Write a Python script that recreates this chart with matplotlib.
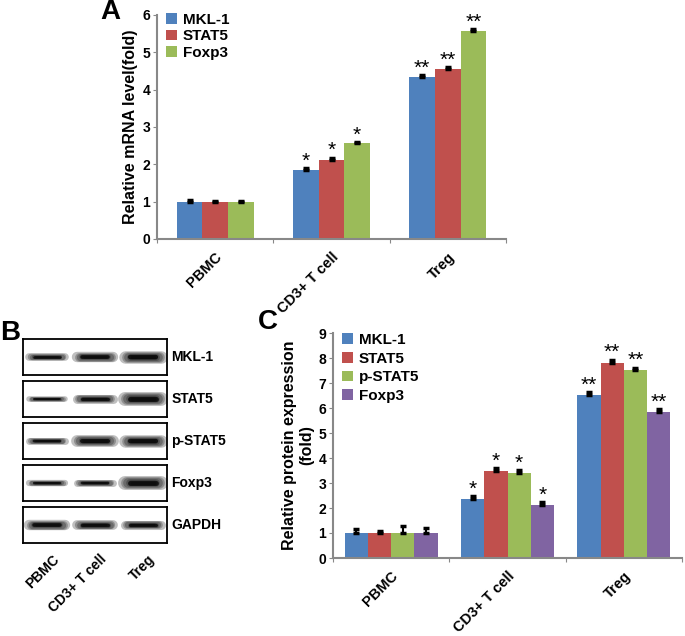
import matplotlib
matplotlib.use("Agg")
import matplotlib.pyplot as plt
import numpy as np

plt.rcParams['font.family'] = ['Liberation Sans', 'DejaVu Sans']
plt.rcParams['font.weight'] = 'bold'

#---------------------------------------------------------------------------------------------------------
# Data
#---------------------------------------------------------------------------------------------------------
groups = ["PBMC", "CD3+ T cell", "Treg"]

mrna_names = ["MKL-1", "STAT5", "Foxp3"]
mrna_vals = [[1.0, 1.85, 4.35],
             [1.0, 2.12, 4.55],
             [1.0, 2.56, 5.58]]
mrna_err = [[0.04, 0.05, 0.05],
            [0.03, 0.06, 0.05],
            [0.03, 0.04, 0.05]]
mrna_sig = [["", "*", "**"],
            ["", "*", "**"],
            ["", "*", "**"]]

prot_names = ["MKL-1", "STAT5", "p-STAT5", "Foxp3"]
prot_vals = [[1.0, 2.35, 6.52],
             [1.0, 3.50, 7.82],
             [1.0, 3.42, 7.52],
             [1.0, 2.12, 5.85]]
prot_err = [[0.15, 0.12, 0.12],
            [0.10, 0.10, 0.12],
            [0.30, 0.10, 0.10],
            [0.22, 0.12, 0.12]]
prot_sig = [["", "*", "**"],
            ["", "*", "**"],
            ["", "*", "**"],
            ["", "*", "**"]]

blot_names = ["MKL-1", "STAT5", "p-STAT5", "Foxp3", "GAPDH"]
blot_bands = [[0.55, 0.75, 0.90],
              [0.40, 0.65, 1.00],
              [0.50, 0.85, 0.90],
              [0.45, 0.50, 1.00],
              [0.75, 0.70, 0.65]]

colors = ["#4F81BD", "#C0504D", "#9BBB59", "#8064A2"]


#---------------------------------------------------------------------------------------------------------
# Grouped bar chart with error caps and stars
#---------------------------------------------------------------------------------------------------------
def barPanel(ax, names, vals, errs, sigs, groupWidth, ymax, ylabel, legendY, spacing):
    n = len(names)
    w = groupWidth / n
    x = np.arange(len(groups))
    for i in range(n):
        pos = x - groupWidth / 2 + w * (i + 0.5)
        ax.bar(pos, vals[i], w, color=colors[i], label=names[i], zorder=2)
        ax.errorbar(pos, vals[i], yerr=[np.zeros(len(groups)), errs[i]], fmt='none',
                    ecolor='black', elinewidth=1.5, capsize=2.5, capthick=2.5, zorder=3)
        for j in range(len(groups)):
            if sigs[i][j]:
                ax.text(pos[j], vals[i][j] + errs[i][j] - ymax * 0.012, sigs[i][j],
                        ha='center', va='bottom', fontsize=15, fontweight='normal')
    ax.set_xlim(-0.5, len(groups) - 0.5)
    ax.set_ylim(0, ymax)
    ax.set_yticks(range(ymax + 1))
    ax.set_xticks(np.arange(len(groups) + 1) - 0.5)
    ax.set_xticklabels([])
    ax.set_xticks(x, minor=True)
    ax.set_xticklabels(groups, minor=True, rotation=45, ha='right', rotation_mode='anchor')
    for lab in ax.get_xticklabels(minor=True):
        lab.set_fontweight('bold')
        lab.set_fontsize(10.5)
    ax.tick_params(axis='x', which='minor', length=0, pad=8)
    ax.tick_params(axis='x', which='major', length=3, color='#888888')
    ax.tick_params(axis='y', length=3, color='#888888', labelsize=10, pad=2)
    for lab in ax.get_yticklabels():
        lab.set_fontweight('bold')
    for s in ['top', 'right']:
        ax.spines[s].set_visible(False)
    for s in ['left', 'bottom']:
        ax.spines[s].set_color('#888888')
        ax.spines[s].set_linewidth(1.5)
    ax.set_ylabel(ylabel, fontsize=11.5, fontweight='bold', labelpad=3)
    ax.legend(loc='upper left', bbox_to_anchor=(0.0, legendY), frameon=False,
              prop={'size': 11, 'weight': 'bold'}, handlelength=0.7, handleheight=0.7,
              handletextpad=0.4, labelspacing=spacing, borderaxespad=0.2)


def blotPanel(fig):
    top = 1 - 339 / 636
    h = 36 / 636
    gap = 42 / 636
    for k, name in enumerate(blot_names):
        ax = fig.add_axes([23 / 685, top - k * gap - h, 144 / 685, h])
        ax.set_xlim(0, 3)
        ax.set_ylim(0, 1)
        ax.set_xticks([])
        ax.set_yticks([])
        for s in ax.spines.values():
            s.set_linewidth(1.3)
        for lane, b in enumerate(blot_bands[k]):
            # fuzzy band: stacked strokes, wider and paler outwards
            for layer in range(6):
                half = 0.37 - layer * 0.03
                xs = [lane + 0.5 - half, lane + 0.5 + half]
                ax.plot(xs, [0.5, 0.5], color='black', lw=b * (10 - layer * 1.5),
                        alpha=0.25, solid_capstyle='round')
            ax.plot([lane + 0.22, lane + 0.78], [0.5, 0.5], color='black',
                    lw=b * 3.5, alpha=0.7, solid_capstyle='round')
        ax.text(1.03, 0.5, name, transform=ax.transAxes, ha='left', va='center',
                fontsize=10, fontweight='bold')
        if k == len(blot_names) - 1:
            for lane, g in enumerate(groups):
                ax.text(lane + 0.6, -0.25, g, ha='right', va='top', rotation=45,
                        rotation_mode='anchor', fontsize=10, fontweight='bold')


def main():
    fig = plt.figure(figsize=(6.85, 6.36), dpi=100)

    axA = fig.add_axes([157 / 685, 1 - 239 / 636, 349 / 685, 224 / 636])
    barPanel(axA, mrna_names, mrna_vals, mrna_err, mrna_sig, 0.66, 6,
             "Relative mRNA level(fold)", 1.05, 0.15)

    axC = fig.add_axes([333 / 685, 1 - 558 / 636, 349 / 685, 225 / 636])
    barPanel(axC, prot_names, prot_vals, prot_err, prot_sig, 0.8, 9,
             "Relative protein expression\n(fold)", 1.04, 0.3)

    blotPanel(fig)

    fig.text(100 / 685, 1 - 12 / 636, "A", fontsize=20, fontweight='bold', va='center')
    fig.text(0 / 685, 1 - 333 / 636, "B", fontsize=20, fontweight='bold', va='center')
    fig.text(258 / 685, 1 - 322 / 636, "C", fontsize=20, fontweight='bold', va='center')

    fig.savefig("out.png", dpi=100)


if __name__ == "__main__":
    main()
